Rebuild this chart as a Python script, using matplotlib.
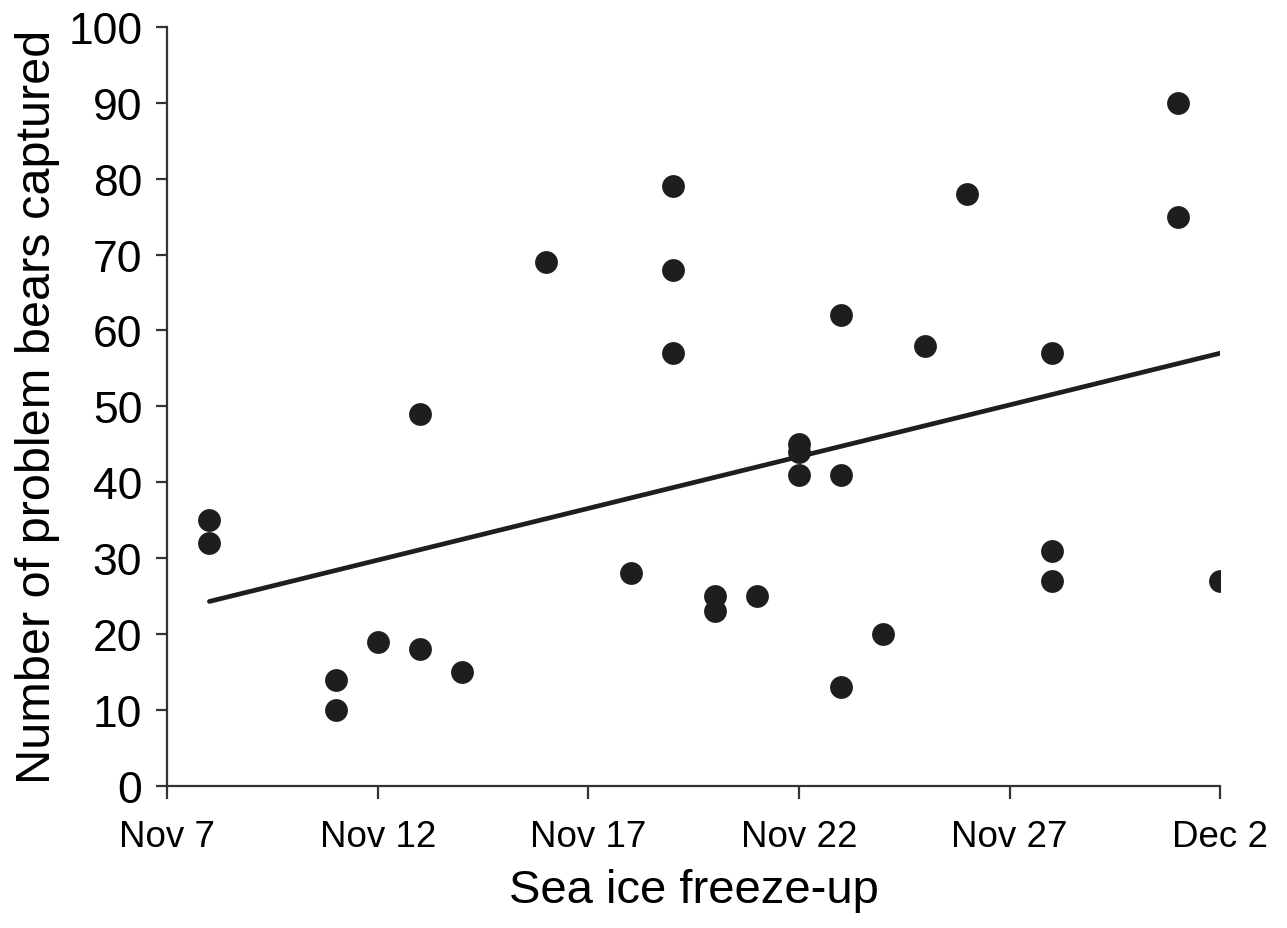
import numpy as np
import matplotlib
matplotlib.use("Agg")
import matplotlib.pyplot as plt

# days after Nov 7 (sea ice freeze-up) and number of problem bears captured
days = [1, 1, 4, 4, 5, 6, 6, 7, 9, 11, 12, 12, 12, 13, 13, 14,
        15, 15, 15, 16, 16, 16, 17, 18, 19, 21, 21, 21, 24, 24, 25]
bears = [35, 32, 14, 10, 19, 49, 18, 15, 69, 28, 79, 68, 57, 25, 23, 25,
         45, 44, 41, 62, 41, 13, 20, 58, 78, 57, 31, 27, 90, 75, 27]

# regression line ends
fit_days = [1, 25]
fit_bears = [24.3, 57.0]

tick_days = [0, 5, 10, 15, 20, 25]
tick_labels = ["Nov 7", "Nov 12", "Nov 17", "Nov 22", "Nov 27", "Dec 2"]
y_ticks = list(range(0, 101, 10))

ink = "#1e1e1e"
plt.rcParams["font.family"] = ["Liberation Sans", "DejaVu Sans"]

fig = plt.figure(figsize=(12.87, 9.29), dpi=100)
ax = fig.add_axes([0.130, 0.153, 0.818, 0.817])

ax.scatter(days, bears, s=270, color=ink, zorder=3, linewidths=0)
ax.plot(fit_days, fit_bears, color=ink, lw=3.4, solid_capstyle="round", zorder=2)

ax.set_xlim(0, 25)
ax.set_ylim(0, 100)
ax.set_xticks(tick_days)
ax.set_xticklabels(tick_labels, fontsize=26.5)
ax.set_yticks(y_ticks)
ax.tick_params(axis="y", labelsize=32, length=8, width=1.6, color="#333333", pad=10)
ax.tick_params(axis="x", length=9, width=1.6, color="#333333", pad=15)

for side in ["top", "right"]:
    ax.spines[side].set_visible(False)
for side in ["left", "bottom"]:
    ax.spines[side].set_linewidth(1.6)
    ax.spines[side].set_color("#333333")

ax.set_xlabel("Sea ice freeze-up", fontsize=34, labelpad=10)
ax.set_ylabel("Number of problem bears captured", fontsize=35, labelpad=6)

fig.savefig("out.png", dpi=100)
